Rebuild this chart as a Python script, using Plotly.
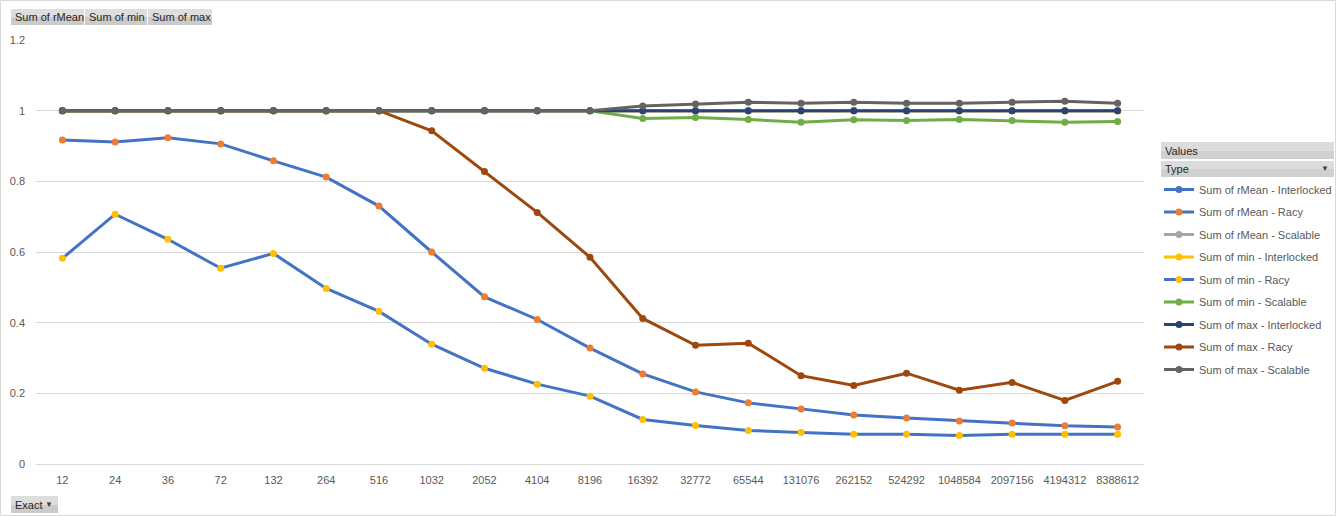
import plotly.graph_objects as go

# ---------------- data ----------------
categories = ["12", "24", "36", "72", "132", "264", "516", "1032", "2052", "4104", "8196",
              "16392", "32772", "65544", "131076", "262152", "524292", "1048584",
              "2097156", "4194312", "8388612"]

rmean_interlocked = [1.0] * 21
rmean_racy = [0.917, 0.911, 0.923, 0.906, 0.858, 0.812, 0.730, 0.600, 0.473, 0.409, 0.328,
              0.255, 0.204, 0.173, 0.156, 0.139, 0.130, 0.122, 0.116, 0.108, 0.105]
rmean_scalable = [1.0] * 21
min_interlocked = [1.0] * 21
min_racy = [0.582, 0.707, 0.636, 0.554, 0.596, 0.497, 0.432, 0.339, 0.271, 0.226, 0.192,
            0.126, 0.109, 0.095, 0.089, 0.084, 0.084, 0.081, 0.084, 0.084, 0.084]
min_scalable = [1.0, 1.0, 1.0, 1.0, 1.0, 1.0, 1.0, 1.0, 1.0, 1.0, 1.0,
                0.978, 0.981, 0.975, 0.967, 0.974, 0.972, 0.975, 0.972, 0.967, 0.969]
max_interlocked = [1.0] * 21
max_racy = [1.0, 1.0, 1.0, 1.0, 1.0, 1.0, 1.0, 0.943, 0.828, 0.712, 0.585,
            0.412, 0.336, 0.342, 0.250, 0.222, 0.257, 0.209, 0.231, 0.180, 0.234]
max_scalable = [1.0, 1.0, 1.0, 1.0, 1.0, 1.0, 1.0, 1.0, 1.0, 1.0, 1.0,
                1.013, 1.019, 1.024, 1.021, 1.024, 1.021, 1.021, 1.024, 1.027, 1.021]

series = [
    ("Sum of rMean - Interlocked", rmean_interlocked, "#4472C4", "#4472C4"),
    ("Sum of rMean - Racy", rmean_racy, "#4472C4", "#ED7D31"),
    ("Sum of rMean - Scalable", rmean_scalable, "#A5A5A5", "#A5A5A5"),
    ("Sum of min - Interlocked", min_interlocked, "#FFC000", "#FFC000"),
    ("Sum of min - Racy", min_racy, "#4472C4", "#FFC000"),
    ("Sum of min - Scalable", min_scalable, "#70AD47", "#70AD47"),
    ("Sum of max - Interlocked", max_interlocked, "#264478", "#264478"),
    ("Sum of max - Racy", max_racy, "#9E480E", "#9E480E"),
    ("Sum of max - Scalable", max_scalable, "#636363", "#636363"),
]

# ---------------- layout geometry ----------------
WIDTH, HEIGHT = 1336, 516
L, R, T, B = 36, 192, 40, 52
PW, PH = WIDTH - L - R, HEIGHT - T - B


def px(x):
    return (x - L) / PW


def py(y):
    return (HEIGHT - B - y) / PH


FONT = "Liberation Sans"
BTN_FONT = "Liberation Sans"

fig = go.Figure()
for i, (name, vals, lc, mc) in enumerate(series):
    fig.add_trace(go.Scatter(
        x=categories, y=vals, name=name, mode="lines+markers",
        line=dict(color=lc, width=3),
        marker=dict(color=mc, size=7, symbol="circle"),
        legendgroup=f"g{i}",
    ))

shapes = []
annotations = []


def button(x0, x1, y0, y1, text, fill_top="#dedede", fill_bot="#cbcbcb", arrow=False):
    ym = (y0 + y1) / 2
    shapes.append(dict(type="rect", xref="paper", yref="paper", x0=px(x0), x1=px(x1),
                       y0=py(y0), y1=py(ym), fillcolor=fill_top, line=dict(width=0), layer="above"))
    shapes.append(dict(type="rect", xref="paper", yref="paper", x0=px(x0), x1=px(x1),
                       y0=py(ym), y1=py(y1), fillcolor=fill_bot, line=dict(width=0), layer="above"))
    annotations.append(dict(xref="paper", yref="paper", x=px(x0 + 2), y=py(ym), text=text,
                            showarrow=False, xanchor="left", yanchor="middle",
                            font=dict(family=BTN_FONT, size=11, color="#262626")))
    if arrow:
        annotations.append(dict(xref="paper", yref="paper", x=px(x1 - 3), y=py(ym), text="▼",
                                showarrow=False, xanchor="right", yanchor="middle",
                                font=dict(family=BTN_FONT, size=8, color="#404040")))


# chart border
shapes.append(dict(type="rect", xref="paper", yref="paper", x0=px(0.5), x1=px(1335.5),
                   y0=py(0.5), y1=py(515.5), line=dict(color="#d9d9d9", width=1),
                   fillcolor="rgba(0,0,0,0)"))

button(11, 84, 9, 25, "Sum of rMean")
button(85, 147, 9, 25, "Sum of min")
button(148, 212, 9, 25, "Sum of max")
button(11, 58, 496, 513, "Exact")
annotations.append(dict(xref="paper", yref="paper", x=px(55), y=py(504.5), text="▼",
                        showarrow=False, xanchor="right", yanchor="middle",
                        font=dict(family=BTN_FONT, size=8, color="#404040")))
button(1161, 1334, 142, 159, "Values", fill_top="#dcdcdc", fill_bot="#d0d0d0")
button(1161, 1334, 161, 177, "Type", fill_top="#dcdcdc", fill_bot="#d0d0d0", arrow=True)

fig.update_layout(
    width=WIDTH, height=HEIGHT,
    margin=dict(l=L, r=R, t=T, b=B, pad=0, autoexpand=False),
    paper_bgcolor="white", plot_bgcolor="white",
    font=dict(family=FONT, size=11, color="#595959"),
    showlegend=True,
    legend=dict(
        xref="container", yref="container",
        x=1159 / WIDTH, y=1 - 175 / HEIGHT, xanchor="left", yanchor="top",
        traceorder="grouped", tracegroupgap=3.5, itemwidth=30,
        font=dict(family=FONT, size=11, color="#595959"),
        bgcolor="rgba(0,0,0,0)",
    ),
    xaxis=dict(
        type="category", categoryorder="array", categoryarray=categories,
        range=[-0.5, len(categories) - 0.5], automargin=False,
        showgrid=False, zeroline=False, showline=False, ticks="",
        ticklabelstandoff=8,
        tickfont=dict(family=FONT, size=11, color="#595959"),
    ),
    yaxis=dict(
        range=[0, 1.2], automargin=False,
        showgrid=True, gridcolor="#d9d9d9", gridwidth=1,
        zeroline=True, zerolinecolor="#d9d9d9", zerolinewidth=1,
        showline=False, ticks="", ticklabelstandoff=10,
        tickvals=[0, 0.2, 0.4, 0.6, 0.8, 1.0, 1.2],
        ticktext=["0", "0.2", "0.4", "0.6", "0.8", "1", "1.2"],
        tickfont=dict(family=FONT, size=11, color="#595959"),
    ),
    shapes=shapes,
    annotations=annotations,
)

fig.write_html("out.html", config={"displayModeBar": False},
               post_script="document.body.style.margin='0';document.body.style.overflow='hidden';")
